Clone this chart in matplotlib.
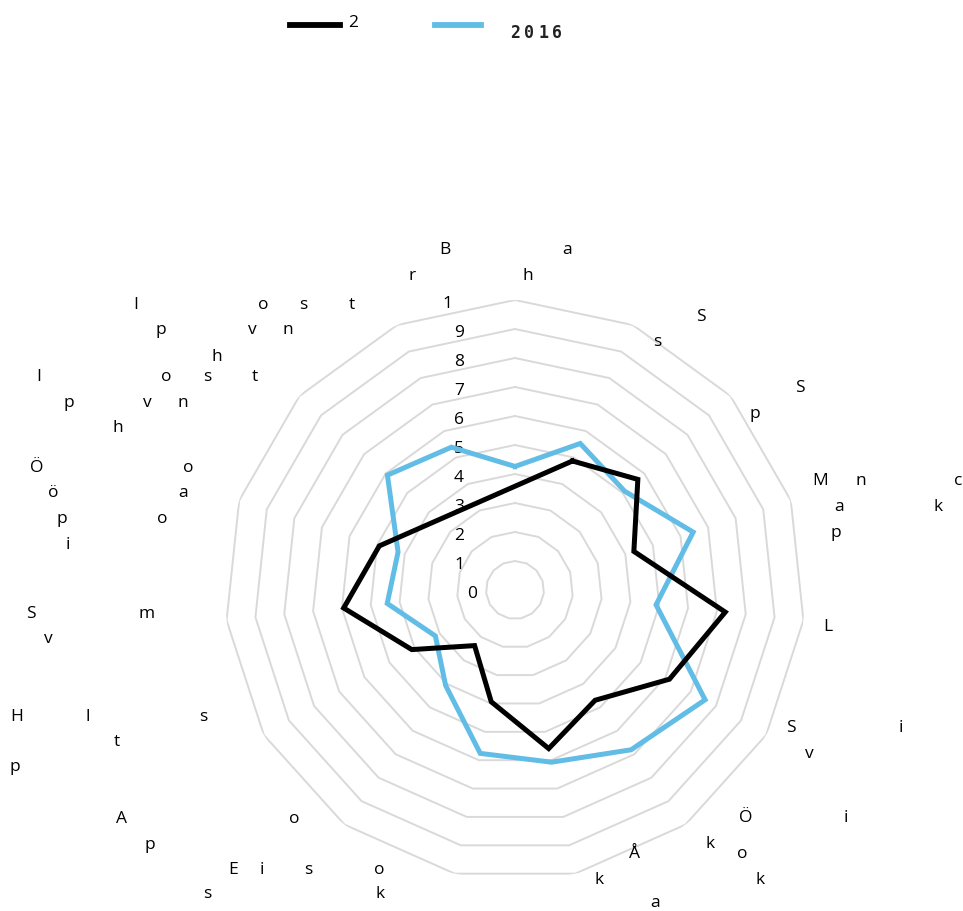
import numpy as np
import matplotlib
matplotlib.use("Agg")
import matplotlib.pyplot as plt
from matplotlib.lines import Line2D

W, H = 963, 911

# category labels (only the letters that show up in the picture), clockwise from top
categories = [
    ["B a", "r h"],
    ["S", "s"],
    ["S", "p"],
    ["M n c", "a k", "p"],
    ["L"],
    ["S i", "v"],
    ["Ö i", "k"],
    ["Å o", "k k", "a"],
    ["E i s o", "s k"],
    ["A o", "p"],
    ["H l s", "t", "p"],
    ["S m", "v"],
    ["Ö o", "ö a", "p o", "i"],
    ["I o s t", "p v n", "h"],
    ["I o s t", "p v n", "h"],
]
series_names = ["2", "2016"]
series_2 = [np.nan, 4.87, 5.70, 4.31, 7.29, 6.15, 4.70, 5.59, 3.94, 2.37, 4.11, 5.94, 4.92, np.nan, np.nan]
series_2016 = [4.26, 5.53, 5.09, 6.46, 4.89, 7.57, 6.81, 6.07, 5.76, 4.07, 3.17, 4.43, 4.24, 5.92, 5.39]
ring_values = list(range(0, 11))
ring_labels = ["0", "1", "2", "3", "4", "5", "6", "7", "8", "9", "1"]

# layout of the label letters: (baseline y, x of each letter) in pixels
label_pos = [
    [(254, [445, 567]), (280, [412, 528])],
    [(321, [701]), (346, [657])],
    [(392, [800]), (418, [755])],
    [(485, [820, 861, 958]), (511, [839, 938]), (537, [836])],
    [(631, [828])],
    [(732, [791, 901]), (758, [809])],
    [(822, [746, 846]), (848, [710])],
    [(858, [634, 742]), (884, [599, 760]), (907, [655])],
    [(874, [233, 262, 308, 379]), (898, [207, 380])],
    [(823, [121, 294]), (849, [150])],
    [(721, [17, 88, 203]), (746, [117]), (771, [15])],
    [(618, [31, 147]), (643, [48])],
    [(472, [37, 188]), (497, [53, 183]), (523, [62, 162]), (549, [68])],
    [(381, [39, 166, 207, 255]), (407, [69, 147, 183]), (432, [118])],
    [(309, [136, 263, 303, 352]), (334, [161, 252, 288]), (361, [217])],
]

CX, CY, R = 515, 590, 290
BLUE = "#62BDE6"
GRID = "#D9D9D9"
FONT = "Open Sans"


def fx(x):
    return x / W


def fy(y):
    return 1 - y / H


fig = plt.figure(figsize=(W / 100, H / 100), dpi=100)
ax = fig.add_axes([fx(CX - R), fy(CY + R), 2 * R / W, 2 * R / H], projection="polar")
ax.set_theta_zero_location("N")
ax.set_theta_direction(-1)
ax.set_ylim(0, 10)
ax.grid(False)
ax.set_xticks([])
ax.set_yticks([])
ax.spines["polar"].set_visible(False)
ax.patch.set_alpha(0)

n = len(categories)
theta = np.arange(n) * 2 * np.pi / n
ring_theta = np.append(theta, theta[0])

# polygon rings
for v in ring_values[1:]:
    ax.plot(ring_theta, [v] * (n + 1), color=GRID, lw=1.4, zorder=1)

# series
v2016 = np.array(series_2016)
ax.plot(ring_theta, np.append(v2016, v2016[0]), color=BLUE, lw=3.6,
        solid_joinstyle="miter", zorder=4)

v2 = np.array(series_2)
ok = ~np.isnan(v2)
t2 = theta[ok]
ax.plot(np.append(t2, t2[0]), np.append(v2[ok], v2[ok][0]), color="black", lw=3.6,
        solid_joinstyle="miter", zorder=5)

# value labels, left of the vertical axis
step = R / 10
for v, lab in zip(ring_values, ring_labels):
    x = 459
    if v == 0:
        x = 472
    elif v == 10:
        x = 447
    ax.text(fx(x), fy(CY + 4 - v * step), lab, transform=fig.transFigure,
            ha="center", va="center", fontsize=12.5, family=FONT, color="#000000", zorder=2)

# category labels
for lines, pos in zip(categories, label_pos):
    for line, (yb, xs) in zip(lines, pos):
        for ch, x in zip(line.split(), xs):
            fig.text(fx(x), fy(yb), ch, ha="center", va="baseline",
                     fontsize=12.5, family=FONT, color="#000000")

# legend
fig.add_artist(Line2D([fx(290), fx(340)], [fy(24.5), fy(24.5)], color="black", lw=4.2,
                      transform=fig.transFigure))
fig.text(fx(353), fy(23), series_names[0], ha="center", va="center", fontsize=12.5,
         family=FONT)
fig.add_artist(Line2D([fx(435), fx(481)], [fy(24.5), fy(24.5)], color=BLUE, lw=4.2,
                      transform=fig.transFigure))
for i, ch in enumerate(series_names[1]):
    fig.text(fx(515 + i * 14), fy(33), ch, ha="center", va="center", fontsize=12,
             family="DejaVu Sans Mono", fontweight="bold", color="#222222")

fig.savefig("out.png", dpi=100)
